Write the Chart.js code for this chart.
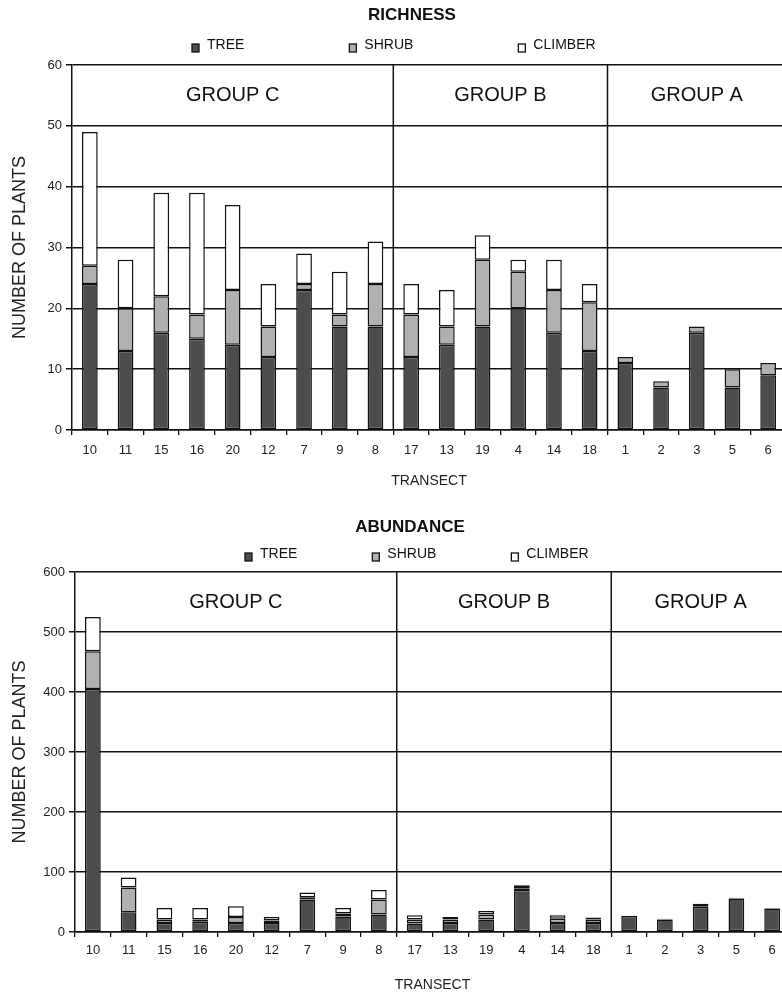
<!DOCTYPE html>
<html lang="en">
<head>
  <meta charset="UTF-8">
  <title>Richness and abundance</title>
  <script src="https://cdn.jsdelivr.net/npm/chart.js"></script>
  <style>
    html, body { margin: 0; padding: 0; background: #fff; overflow: hidden; }
    canvas { display: block; }
  </style>
</head>
<body>

  <canvas id="richChart" width="792" height="498"></canvas>
  <canvas id="abChart" width="792" height="498"></canvas>

  <script>
    const transects = ['10', '11', '15', '16', '20', '12', '7', '9', '8', '17', '13', '19', '4', '14', '18', '1', '2', '3', '5', '6'];
    const groupNames = ['GROUP C', 'GROUP B', 'GROUP A'];
    const groupSizes = [9, 6, 5];

    // richness (number of species)
    const richTree    = [24, 13, 16, 15, 14, 12, 23, 17, 17, 12, 14, 17, 20, 16, 13, 11, 7, 16, 7, 9];
    const richShrub   = [3, 7, 6, 4, 9, 5, 1, 2, 7, 7, 3, 11, 6, 7, 8, 1, 1, 1, 3, 2];
    const richClimber = [22, 8, 17, 20, 14, 7, 5, 7, 7, 5, 6, 4, 2, 5, 3, 0, 0, 0, 0, 0];

    // abundance (number of individuals)
    const abTree    = [405, 33, 15, 17, 15, 15, 54, 26, 29, 14, 15, 21, 68, 15, 15, 27, 21, 42, 56, 39];
    const abShrub   = [63, 41, 6, 4, 10, 4, 4, 5, 25, 7, 6, 8, 5, 7, 6, 0, 1, 5, 1, 1];
    const abClimber = [57, 17, 19, 19, 18, 6, 8, 9, 16, 7, 4, 6, 5, 6, 3, 0, 0, 0, 0, 0];

    const FONT = '"Liberation Sans", Arial, sans-serif';
    const INK = '#111';

    // title + legend drawn at fixed spots (legend sits off-centre in the original)
    const headerPlugin = {
      id: 'header',
      afterDraw(chart, args, o) {
        const ctx = chart.ctx;
        ctx.save();
        ctx.fillStyle = INK;
        ctx.textBaseline = 'middle';
        ctx.textAlign = 'center';
        ctx.font = 'bold 17px ' + FONT;
        ctx.fillText(o.title, o.titleX, o.titleY);

        ctx.font = '14px ' + FONT;
        ctx.textAlign = 'left';
        let x = o.legendX;
        chart.data.datasets.forEach(ds => {
          ctx.fillStyle = ds.backgroundColor;
          ctx.fillRect(x, o.legendY - 1, 7, 8);
          ctx.strokeStyle = INK;
          ctx.lineWidth = 1.3;
          ctx.strokeRect(x, o.legendY - 1, 7, 8);
          ctx.fillStyle = INK;
          ctx.fillText(ds.label, x + 15, o.legendY);
          x += 15 + ctx.measureText(ds.label).width + o.legendGap;
        });
        ctx.restore();
      }
    };

    // vertical dividers between transect groups and the group names
    const groupsPlugin = {
      id: 'groups',
      afterDatasetsDraw(chart) {
        const ctx = chart.ctx;
        const xs = chart.scales.x, ys = chart.scales.y;
        const area = chart.chartArea;
        const ticks = ys.ticks;
        const labelY = ys.getPixelForValue(ys.max - (ys.max - ticks[ticks.length - 2].value) / 2);
        ctx.save();
        ctx.strokeStyle = INK;
        ctx.lineWidth = 1.5;
        ctx.fillStyle = INK;
        ctx.font = '20px ' + FONT;
        ctx.textAlign = 'center';
        ctx.textBaseline = 'middle';
        let start = 0;
        groupSizes.forEach((n, i) => {
          const left = xs.getPixelForValue(start - 0.5);
          const right = xs.getPixelForValue(start + n - 0.5);
          if (i > 0) {
            ctx.beginPath();
            ctx.moveTo(left, area.top);
            ctx.lineTo(left, area.bottom);
            ctx.stroke();
          }
          ctx.fillText(groupNames[i], (left + right) / 2, labelY);
          start += n;
        });
        ctx.restore();
      }
    };

    function drawChart(id, tree, shrub, climber, opts) {
      const ctx = document.getElementById(id).getContext('2d');
      const bar = { borderColor: INK, borderWidth: 1.5, borderSkipped: false, barPercentage: 0.44, categoryPercentage: 1 };
      new Chart(ctx, {
        type: 'bar',
        data: {
          labels: transects,
          datasets: [
            Object.assign({ label: 'TREE', data: tree, backgroundColor: '#4c4c4c' }, bar),
            Object.assign({ label: 'SHRUB', data: shrub, backgroundColor: '#b0b0b0' }, bar),
            Object.assign({ label: 'CLIMBER', data: climber, backgroundColor: '#ffffff' }, bar)
          ]
        },
        options: {
          responsive: false,
          animation: false,
          layout: { padding: { top: opts.plotTop, right: opts.padRight, left: 0, bottom: 0 } },
          plugins: {
            legend: { display: false },
            title: { display: false },
            tooltip: { enabled: false },
            header: opts.header
          },
          scales: {
            x: {
              stacked: true,
              afterFit: s => { s.height = opts.xHeight; },
              border: { display: true, color: INK, width: 1.5 },
              grid: { offset: true, drawOnChartArea: false, drawTicks: true, tickLength: 5, color: INK, lineWidth: 1.3 },
              ticks: { color: '#222', font: { family: FONT, size: 13 }, padding: opts.xTickPad, maxRotation: 0, autoSkip: false },
              title: { display: true, text: 'TRANSECT', color: '#222', font: { family: FONT, size: 14 }, padding: { top: 0, bottom: opts.xTitlePad } }
            },
            y: {
              stacked: true,
              min: 0,
              max: opts.yMax,
              afterFit: s => { s.width = opts.yWidth; },
              border: { display: true, color: INK, width: 1.5 },
              grid: { color: INK, lineWidth: 1.5, tickLength: 6 },
              ticks: { stepSize: opts.yStep, color: '#222', font: { family: FONT, size: 13 }, padding: 4 },
              title: { display: true, text: 'NUMBER OF PLANTS', color: '#222', font: { family: FONT, size: 18 }, padding: { top: 9, bottom: 0 } }
            }
          }
        },
        plugins: [headerPlugin, groupsPlugin]
      });
    }

    drawChart('richChart', richTree, richShrub, richClimber, {
      plotTop: 65, padRight: 6, xHeight: 68, yWidth: 72, yMax: 60, yStep: 10, xTickPad: 8, xTitlePad: 8,
      header: { title: 'RICHNESS', titleX: 412, titleY: 15, legendX: 192, legendY: 45, legendGap: 105 }
    });

    drawChart('abChart', abTree, abShrub, abClimber, {
      plotTop: 74, padRight: 2, xHeight: 64, yWidth: 75, yMax: 600, yStep: 100, xTickPad: 6, xTitlePad: 2,
      header: { title: 'ABUNDANCE', titleX: 410, titleY: 29, legendX: 245, legendY: 56, legendGap: 75 }
    });
  </script>
</body>
</html>
